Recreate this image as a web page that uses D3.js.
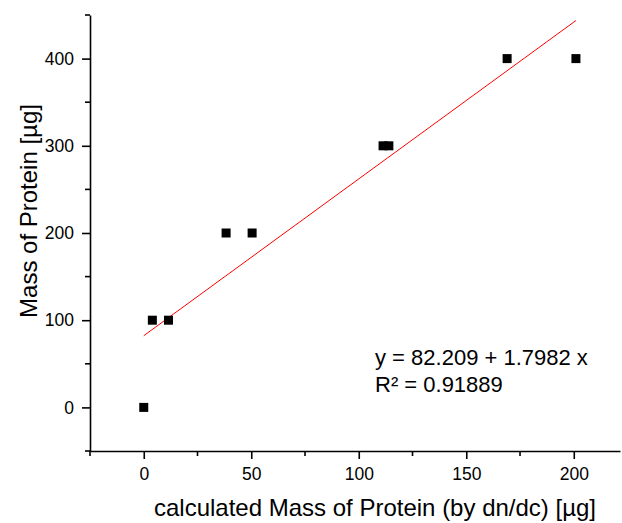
<!DOCTYPE html>
<html>
<head>
<meta charset="utf-8">
<script src="https://cdn.jsdelivr.net/npm/d3@7"></script>
<style>
  body { margin: 0; background: #fff; }
  text { font-family: "Liberation Sans", Arial, sans-serif; }
</style>
</head>
<body>
<div id="viz-container"></div>
<script>
let width = 622;
let height = 523;

// measured points
let calcMass = [0, 4, 11.5, 38.3, 50.4, 111.3, 114, 169, 201];
let realMass = [0, 100, 100, 200, 200, 300, 300, 400, 400];
let fitA = 82.209;
let fitB = 1.7982;
let xTicks = [0, 50, 100, 150, 200];
let yTicks = [0, 100, 200, 300, 400];
let xMinor = [-25, 25, 75, 125, 175];
let yMinor = [-50, 50, 150, 250, 350, 450];

let padL = 90, padT = 15, axisY = 451, axisR = 620;

let viz = d3.select('#viz-container')
  .append('svg')
  .attr('width', width)
  .attr('height', height);

let xScale = d3.scaleLinear().domain([-25, 221.5]).range([padL, axisR]);
let yScale = d3.scaleLinear().domain([-50, 450]).range([axisY, padT]);

// axes
let xAxis = d3.axisBottom(xScale).tickValues(xTicks).tickSize(8).tickPadding(9).tickSizeOuter(0);
let yAxis = d3.axisLeft(yScale).tickValues(yTicks).tickSize(8).tickPadding(8).tickSizeOuter(0);

let gx = viz.append('g').attr('transform', 'translate(0,' + axisY + ')').call(xAxis);
let gy = viz.append('g').attr('transform', 'translate(' + padL + ',0)').call(yAxis);

[gx, gy].forEach(function(g){
  g.select('.domain').attr('stroke', '#000').attr('stroke-width', 1.6);
  g.selectAll('.tick line').attr('stroke', '#000').attr('stroke-width', 1.6);
  g.selectAll('.tick text').attr('font-size', 17.5).attr('fill', '#000')
    .attr('font-family', '"Liberation Sans", Arial, sans-serif');
});

gx.selectAll('.minor').data(xMinor).enter()
  .append('line')
  .attr('class', 'minor')
  .attr('x1', d => xScale(d)).attr('x2', d => xScale(d))
  .attr('y1', 0).attr('y2', 5)
  .attr('stroke', '#000').attr('stroke-width', 1.6);

gy.selectAll('.minor').data(yMinor).enter()
  .append('line')
  .attr('class', 'minor')
  .attr('y1', d => yScale(d)).attr('y2', d => yScale(d))
  .attr('x1', 0).attr('x2', -5)
  .attr('stroke', '#000').attr('stroke-width', 1.6);

// fit line
let xMax = d3.max(calcMass);
viz.append('line')
  .attr('x1', xScale(0)).attr('y1', yScale(fitA))
  .attr('x2', xScale(xMax)).attr('y2', yScale(fitA + fitB * xMax))
  .attr('stroke', '#ff0000')
  .attr('stroke-width', 1);

// points
let sq = 9;
viz.selectAll('.pt').data(calcMass).enter()
  .append('rect')
  .attr('class', 'pt')
  .attr('x', d => xScale(d) - sq/2)
  .attr('y', (d, i) => yScale(realMass[i]) - sq/2)
  .attr('width', sq).attr('height', sq)
  .attr('fill', '#000');

// labels
viz.append('text')
  .text('calculated Mass of Protein (by dn/dc) [µg]')
  .attr('x', 375)
  .attr('y', 516)
  .attr('text-anchor', 'middle')
  .attr('font-size', 24);

viz.append('text')
  .text('Mass of Protein [µg]')
  .attr('transform', 'translate(37,' + 211 + ') rotate(-90)')
  .attr('text-anchor', 'middle')
  .attr('font-size', 24);

viz.append('text')
  .text('y = 82.209 + 1.7982 x')
  .attr('x', 375).attr('y', 365)
  .attr('font-size', 22);

viz.append('text')
  .text('R² = 0.91889')
  .attr('x', 375).attr('y', 392)
  .attr('font-size', 22);
</script>
</body>
</html>
